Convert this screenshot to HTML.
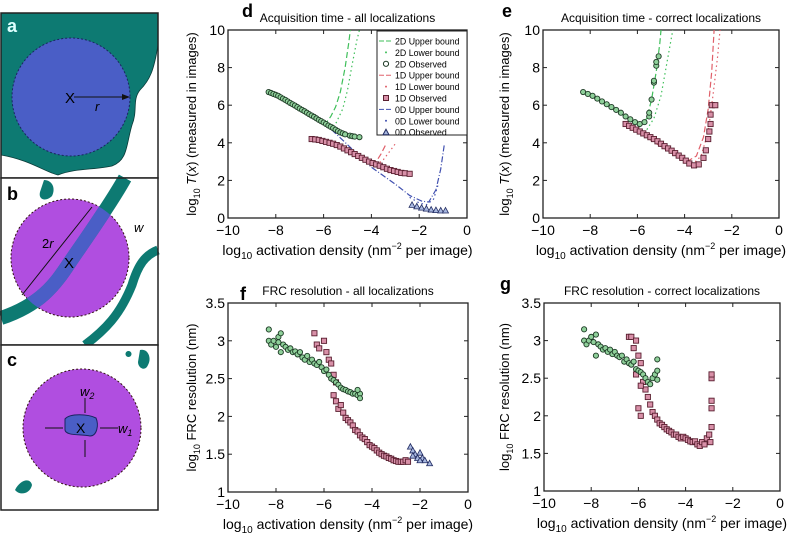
<!DOCTYPE html>
<html><head><meta charset="utf-8"><style>
body{margin:0;background:#fff}
svg{display:block;font-family:"Liberation Sans",sans-serif}
.t{font-size:12px}.tk{font-size:14px}.yl{font-size:13px}
</style></head><body>
<svg id="s" width="788" height="533" viewBox="0 0 788 533">
<g>
<rect x="1" y="13" width="157" height="165" fill="#fff"/>
<path d="M1,13 H158 V45 C154,70 150,80 140,90 C132,100 138,110 132,125 C126,145 128,160 112,166 C95,170 75,168 58,175 C45,172 30,160 1,155 Z" fill="#0d7a72" stroke="#0a3a38" stroke-width="0.8"/>
<rect x="1" y="13" width="157" height="165" fill="none" stroke="#222" stroke-width="1.5"/>
<circle cx="71" cy="97" r="59" fill="#4a5ec6" stroke="#1a2460" stroke-dasharray="2,2"/>
<text x="65" y="103" font-size="15">X</text>
<line x1="74" y1="97" x2="127" y2="97" stroke="#111"/><path d="M130,97 l-8,-3 v6z" fill="#111"/>
<text x="95" y="111" font-size="13" font-style="italic">r</text>
<text x="7" y="32" font-size="18" font-weight="bold" fill="#dff">a</text>
</g>
<g>
<rect x="1" y="178" width="157" height="167" fill="#fff"/>
<circle cx="70" cy="258" r="59" fill="#b04ee0" stroke="#311" stroke-dasharray="2,2"/>
<path d="M1,318 C40,305 55,285 70,262 C85,240 110,205 125,178" fill="none" stroke="#0d7a72" stroke-width="14"/>
<clipPath id="cb"><circle cx="70" cy="258" r="59"/></clipPath>
<path d="M1,318 C40,305 55,285 70,262 C85,240 110,205 125,178" fill="none" stroke="#4a5ec6" stroke-width="14" clip-path="url(#cb)"/>
<path d="M158,250 C145,255 138,265 132,285 C120,315 105,330 85,345" fill="none" stroke="#0d7a72" stroke-width="9"/>
<path d="M44,180 C52,180 56,188 52,196 C46,202 38,200 40,192 Z" fill="#0d7a72"/>
<line x1="22" y1="295" x2="92" y2="207" stroke="#111"/>
<text x="64" y="268" font-size="15">X</text>
<text x="42" y="248" font-size="13">2<tspan font-style="italic">r</tspan></text>
<text x="134" y="232" font-size="13" font-style="italic">w</text>
<rect x="1" y="178" width="157" height="167" fill="none" stroke="#222" stroke-width="1.5"/>
<text x="7" y="200" font-size="18" font-weight="bold">b</text>
</g>
<g>
<rect x="1" y="345" width="157" height="165" fill="#fff" stroke="#222" stroke-width="1.5"/>
<circle cx="82" cy="428" r="59" fill="#b04ee0" stroke="#311" stroke-dasharray="2,2"/>
<path d="M65,419 C70,413 88,414 96,418 C99,425 97,436 90,436 C80,434 66,436 65,430 Z" fill="#4a5ec6" stroke="#1a2460"/>
<text x="76" y="433" font-size="14">X</text>
<path d="M140,350 C148,348 152,358 148,365 C145,372 138,368 138,362 Z M128,351 a3,3 0 1,0 1,0" fill="#0d7a72"/>
<path d="M15,490 C20,480 30,477 32,485 C30,494 20,496 15,490 Z" fill="#0d7a72"/>
<line x1="45" y1="428" x2="63" y2="428" stroke="#111"/><line x1="100" y1="428" x2="118" y2="428" stroke="#111"/>
<line x1="85" y1="398" x2="85" y2="413" stroke="#111"/><line x1="85" y1="440" x2="85" y2="457" stroke="#111"/>
<text x="80" y="396" font-size="13" font-style="italic">w<tspan font-size="9" dy="3">2</tspan></text>
<text x="118" y="433" font-size="13" font-style="italic">w<tspan font-size="9" dy="3">1</tspan></text>
<text x="7" y="366" font-size="18" font-weight="bold">c</text>
</g>
<text x="242" y="17" font-size="18" font-weight="bold">d</text>
<text x="502" y="17" font-size="18" font-weight="bold">e</text>
<text x="240" y="300" font-size="18" font-weight="bold">f</text>
<text x="500" y="290" font-size="18" font-weight="bold">g</text>
</svg>
<script>
const d2Obs=[[-8.3,6.7],[-8.2,6.65],[-8.1,6.6],[-8.0,6.55],[-7.9,6.5],[-7.8,6.42],[-7.7,6.35],[-7.6,6.28],[-7.5,6.2],[-7.4,6.12],[-7.3,6.05],[-7.2,5.98],[-7.1,5.9],[-7.0,5.82],[-6.9,5.75],[-6.8,5.68],[-6.7,5.6],[-6.6,5.52],[-6.5,5.45],[-6.4,5.38],[-6.3,5.3],[-6.2,5.22],[-6.1,5.15],[-6.0,5.08],[-5.9,5.0],[-5.8,4.92],[-5.7,4.85],[-5.6,4.78],[-5.5,4.7],[-5.4,4.62],[-5.3,4.55],[-5.2,4.5],[-5.1,4.45],[-4.9,4.38],[-4.8,4.35],[-4.7,4.33],[-4.5,4.3]];
const d2Up=[[-8.3,6.7],[-7,5.8],[-6.5,5.35],[-6.1,5.05],[-5.9,5.05],[-5.7,5.4],[-5.5,5.9],[-5.3,6.7],[-5.1,8.0],[-4.95,9.3],[-4.88,10]];
const d2Lo=[[-5.8,4.8],[-5.5,5.0],[-5.2,5.8],[-5.0,6.8],[-4.8,8.2],[-4.6,9.5],[-4.5,10]];
const d1Obs=[[-6.5,4.2],[-6.35,4.18],[-6.2,4.15],[-6.05,4.1],[-5.9,4.05],[-5.75,4.0],[-5.6,3.95],[-5.45,3.88],[-5.3,3.8],[-5.15,3.7],[-5.0,3.6],[-4.85,3.5],[-4.7,3.4],[-4.55,3.3],[-4.4,3.2],[-4.25,3.1],[-4.1,3.0],[-3.95,2.92],[-3.8,2.85],[-3.65,2.78],[-3.5,2.7],[-3.35,2.62],[-3.2,2.55],[-3.05,2.5],[-2.9,2.45],[-2.75,2.4],[-2.6,2.38],[-2.4,2.35]];
const d1Up=[[-4.0,2.85],[-3.8,3.0],[-3.6,3.4],[-3.4,3.9]];
const d1Lo=[[-3.8,2.8],[-3.5,3.1],[-3.2,3.6],[-3.0,3.95]];
const d0Obs=[[-2.3,0.7],[-2.1,0.62],[-1.9,0.55],[-1.7,0.5],[-1.5,0.45],[-1.3,0.42],[-1.1,0.4],[-0.9,0.4]];
const d0Up=[[-6.0,5.1],[-5,3.9],[-4,2.7],[-3,1.8],[-2.4,1.2],[-1.9,0.9],[-1.6,0.85],[-1.3,1.5],[-1.1,2.6],[-0.95,3.9]];
const d0Lo=[[-2.4,1.1],[-2.0,0.8],[-1.7,0.7],[-1.4,1.0],[-1.2,1.8]];
const e2Obs=[[-8.3,6.7],[-8.1,6.6],[-7.9,6.5],[-7.7,6.35],[-7.5,6.2],[-7.3,6.05],[-7.1,5.9],[-6.9,5.75],[-6.7,5.6],[-6.5,5.4],[-6.3,5.25],[-6.1,5.1],[-5.9,5.0],[-5.7,5.1],[-5.5,5.4],[-5.5,5.6],[-5.4,6.3],[-5.3,7.2],[-5.3,7.3],[-5.2,8.1],[-5.2,8.3],[-5.1,8.6]];
const e2Up=[[-8.3,6.7],[-7,5.8],[-6.3,5.2],[-5.9,4.85],[-5.6,5.3],[-5.4,6.3],[-5.2,7.8],[-5.05,9.3],[-5.0,10]];
const e2Lo=[[-6.0,4.8],[-5.7,4.5],[-5.3,5.3],[-5.0,6.5],[-4.8,7.9],[-4.6,9.3],[-4.5,10]];
const e1Obs=[[-6.5,5.0],[-6.35,4.9],[-6.2,4.8],[-6.05,4.7],[-5.9,4.6],[-5.75,4.5],[-5.6,4.4],[-5.45,4.3],[-5.3,4.2],[-5.15,4.08],[-5.0,3.95],[-4.85,3.82],[-4.7,3.7],[-4.55,3.58],[-4.4,3.45],[-4.25,3.32],[-4.1,3.2],[-3.95,3.05],[-3.8,2.9],[-3.6,2.8],[-3.4,2.85],[-3.2,3.2],[-3.1,3.6],[-3.0,4.2],[-2.95,4.6],[-2.9,5.0],[-2.9,5.5],[-2.85,6.0],[-2.7,6.0]];
const e1Up=[[-6.5,5.0],[-5,3.8],[-4.2,3.2],[-3.9,3.0],[-3.5,3.3],[-3.2,4.3],[-3.0,5.8],[-2.85,7.8],[-2.75,10]];
const e1Lo=[[-4.2,3.1],[-3.7,2.8],[-3.3,3.3],[-3.0,4.6],[-2.8,6.5],[-2.6,8.6],[-2.5,10]];
const f2Obs=[[-8.3,3.15],[-8.3,3.0],[-8.2,2.95],[-8.1,3.0],[-8.0,2.92],[-7.9,3.05],[-7.9,2.98],[-7.8,2.85],[-7.8,3.1],[-7.7,2.95],[-7.6,2.92],[-7.5,2.88],[-7.4,2.9],[-7.3,2.85],[-7.2,2.86],[-7.1,2.82],[-7.0,2.85],[-6.9,2.78],[-6.8,2.75],[-6.7,2.8],[-6.6,2.72],[-6.5,2.75],[-6.4,2.7],[-6.3,2.68],[-6.2,2.72],[-6.1,2.65],[-6.0,2.6],[-5.9,2.62],[-5.8,2.55],[-5.7,2.5],[-5.6,2.48],[-5.5,2.45],[-5.4,2.42],[-5.3,2.38],[-5.2,2.36],[-5.1,2.35],[-5.0,2.33],[-4.9,2.32],[-4.8,2.3],[-4.7,2.3],[-4.6,2.28],[-4.5,2.3],[-4.5,2.24],[-4.6,2.35]];
const f1Obs=[[-6.4,3.1],[-6.3,2.95],[-6.2,2.9],[-6.0,3.0],[-5.9,2.85],[-5.8,2.75],[-5.7,2.7],[-5.6,2.55],[-5.5,2.45],[-5.6,2.28],[-5.5,2.2],[-5.4,2.1],[-5.3,2.15],[-5.2,2.05],[-5.1,1.98],[-5.0,1.95],[-4.9,1.92],[-4.8,1.88],[-4.7,1.82],[-4.6,1.8],[-4.5,1.75],[-4.4,1.72],[-4.3,1.7],[-4.2,1.66],[-4.1,1.62],[-4.0,1.6],[-3.9,1.58],[-3.8,1.55],[-3.7,1.52],[-3.6,1.5],[-3.5,1.48],[-3.4,1.47],[-3.3,1.45],[-3.2,1.44],[-3.1,1.42],[-3.0,1.41],[-2.9,1.4],[-2.8,1.4],[-2.7,1.4],[-2.6,1.42],[-2.5,1.4]];
const f0Obs=[[-2.4,1.6],[-2.3,1.55],[-2.2,1.5],[-2.3,1.48],[-2.1,1.45],[-2.0,1.52],[-1.9,1.45],[-1.8,1.42],[-1.6,1.38],[-2.0,1.42]];
const g2Obs=[[-8.3,3.15],[-8.3,3.0],[-8.2,2.95],[-8.1,3.0],[-8.0,3.05],[-7.9,2.98],[-7.8,2.8],[-7.8,3.08],[-7.7,2.95],[-7.6,2.92],[-7.5,2.88],[-7.4,2.9],[-7.3,2.85],[-7.2,2.88],[-7.1,2.82],[-7.0,2.85],[-6.9,2.8],[-6.8,2.78],[-6.7,2.8],[-6.6,2.72],[-6.5,2.75],[-6.4,2.7],[-6.3,2.68],[-6.2,2.72],[-6.1,2.62],[-6.0,2.6],[-5.9,2.58],[-5.8,2.55],[-5.7,2.5],[-5.6,2.45],[-5.5,2.42],[-5.4,2.5],[-5.3,2.55],[-5.2,2.6],[-5.2,2.75],[-5.2,2.48]];
const g1Obs=[[-6.4,3.05],[-6.3,3.05],[-6.2,2.9],[-6.1,3.0],[-6.0,2.8],[-5.9,2.7],[-6.1,2.55],[-5.8,2.45],[-5.7,2.35],[-5.9,2.4],[-6.0,2.1],[-5.9,2.0],[-5.6,2.25],[-5.5,2.15],[-5.4,2.05],[-5.3,2.0],[-5.2,1.95],[-5.1,1.9],[-5.0,1.88],[-4.9,1.85],[-4.8,1.82],[-4.7,1.8],[-4.6,1.78],[-4.5,1.75],[-4.4,1.75],[-4.3,1.72],[-4.2,1.7],[-4.1,1.72],[-4.0,1.7],[-3.9,1.68],[-3.8,1.66],[-3.7,1.65],[-3.6,1.66],[-3.5,1.62],[-3.4,1.6],[-3.3,1.65],[-3.2,1.62],[-3.1,1.7],[-3.0,1.75],[-2.95,1.65],[-2.9,1.85],[-2.9,2.1],[-2.9,2.2],[-2.9,2.5],[-2.9,2.55]];
const xTicks=[-10,-8,-6,-4,-2,0];
const yTicksT=[0,2,4,6,8,10];
const yTicksF=[1,1.5,2,2.5,3,3.5];
const yTickLabelsF=["1","1.5","2","2.5","3","3.5"];
const legendLabels=["2D Upper bound","2D Lower bound","2D Observed","1D Upper bound","1D Lower bound","1D Observed","0D Upper bound","0D Lower bound","0D Observed"];

const NS="http://www.w3.org/2000/svg",S=document.getElementById('s');
function mk(tag,attrs,parent){const e=document.createElementNS(NS,tag);for(const k in attrs)e.setAttribute(k,attrs[k]);(parent||S).appendChild(e);return e;}
const GREEN="#3fbf5a",RED="#e0606a",BLUE="#4050b0";
function panel(name,L,R,T,B,y0,y1,yt,ytl,title,ylab,yx){
  const g=mk('g',{});
  
  
  const sx=v=>L+(v+10)/10*(R-L), sy=v=>B-(v-y0)/(y1-y0)*(B-T);
  const cp='c'+name;const c=mk('clipPath',{id:cp},g);mk('rect',{x:L,y:T,width:R-L,height:B-T},c);
  mk('rect',{x:L,y:T,width:R-L,height:B-T,fill:'none',stroke:'#222','stroke-width':1.3},g);
  xTicks.forEach(v=>{mk('line',{x1:sx(v),x2:sx(v),y1:B,y2:B-4,stroke:'#222'},g);mk('line',{x1:sx(v),x2:sx(v),y1:T,y2:T+4,stroke:'#222'},g);
    const t=mk('text',{x:sx(v),y:B+17,'text-anchor':'middle',class:'tk'},g);t.textContent=(v<0?'\u2212'+(-v):v);
    
    });
  yt.forEach((v,i)=>{mk('line',{x1:L,x2:L+4,y1:sy(v),y2:sy(v),stroke:'#222'},g);mk('line',{x1:R,x2:R-4,y1:sy(v),y2:sy(v),stroke:'#222'},g);
    const t=mk('text',{x:L-3,y:sy(v)+5,'text-anchor':'end',class:'tk'},g);t.textContent=ytl[i];
    
    });
  const tt=mk('text',{x:(L+R)/2,y:T-8,'text-anchor':'middle',class:'t'},g);tt.textContent=title;
  
  
  const xl=mk('text',{x:(L+R)/2,y:B+37,'text-anchor':'middle',class:'tk'},g);
  xl.innerHTML='log<tspan font-size="10" dy="4">10</tspan><tspan dy="-4"> activation density (nm</tspan><tspan font-size="9" dy="-6">\u22122</tspan><tspan dy="6"> per image)</tspan>';
  
  
  const yl=mk('text',{x:0,y:0,'text-anchor':'middle',class:'yl',transform:`translate(${yx},${(T+B)/2}) rotate(-90)`},g);
  yl.innerHTML=ylab;
  
  
  const pg=mk('g',{'clip-path':`url(#${cp})`},g);
  return {sx,sy,pg,g};
}
function line(P,data,col,dash,name){const pl=mk('polyline',{points:data.map(p=>P.sx(p[0])+','+P.sy(p[1])).join(' '),fill:'none',stroke:col,'stroke-width':1.2,'stroke-dasharray':dash},P.pg);
  
  }
function pts(P,data,kind,name){const gg=mk('g',{},P.pg);
  
  
  data.forEach(p=>{const x=P.sx(p[0]),y=P.sy(p[1]);
  if(kind==='c')mk('circle',{cx:x,cy:y,r:2.6,fill:'#8fd09a',stroke:'#1d3a25','stroke-width':0.9},gg);
  else if(kind==='s')mk('rect',{x:x-2.6,y:y-2.6,width:5.2,height:5.2,fill:'#d890a8',stroke:'#5a1f30','stroke-width':0.9},gg);
  else mk('path',{d:`M${x},${y-3}L${x+3},${y+2.5}L${x-3},${y+2.5}Z`,fill:'#a8b8e0',stroke:'#202a60','stroke-width':0.8},gg);});}
const tl='log<tspan font-size="9" dy="4">10</tspan><tspan dy="-4"> </tspan><tspan font-style="italic">T</tspan>(<tspan font-style="italic">x</tspan>) (measured in images)';
const fl='log<tspan font-size="9" dy="4">10</tspan><tspan dy="-4"> FRC resolution (nm)</tspan>';
const yTickLabelsT=yTicksT.map(String);
const D=panel('chart-d',228,467,30,218,0,10,yTicksT,yTickLabelsT,'Acquisition time - all localizations',tl,196);
line(D,d2Up,GREEN,'6,3','2d-upper-bound');line(D,d2Lo,GREEN,'1.5,3','2d-lower-bound');
line(D,d1Up,RED,'6,3','1d-upper-bound');line(D,d1Lo,RED,'1.5,3','1d-lower-bound');
line(D,d0Up,BLUE,'6,2,1,2','0d-upper-bound');line(D,d0Lo,BLUE,'1.5,3','0d-lower-bound');
pts(D,d2Obs,'c','2d-observed');pts(D,d1Obs,'s','1d-observed');pts(D,d0Obs,'t','0d-observed');
const lg=mk('g',{});


mk('rect',{x:377,y:31,width:90,height:104,fill:'#fff',stroke:'#222','stroke-width':1},lg);
const lcol=[GREEN,GREEN,'c',RED,RED,'s',BLUE,BLUE,'t'];
legendLabels.forEach((lab,i)=>{const y=41+i*11.4;const e=mk('g',{},lg);
  
  
  const k=lcol[i];
  if(k==='c')mk('circle',{cx:386,cy:y,r:2.6,fill:'none',stroke:'#1d3a25'},e);
  else if(k==='s')mk('rect',{x:383.5,y:y-2.5,width:5,height:5,fill:'#d890a8',stroke:'#5a1f30'},e);
  else if(k==='t')mk('path',{d:`M386,${y-3}L389,${y+2.5}L383,${y+2.5}Z`,fill:'#a8b8e0',stroke:'#202a60'},e);
  else if(i%3===0)mk('line',{x1:379,x2:393,y1:y,y2:y,stroke:k,'stroke-dasharray':'5,2'},e);
  else mk('circle',{cx:386,cy:y,r:1,fill:k},e);
  const t=mk('text',{x:395,y:y+3.5,'font-size':'8.8'},e);t.textContent=lab;});
const E=panel('chart-e',543,779,30,218,0,10,yTicksT,yTickLabelsT,'Acquisition time - correct localizations',tl,509);
line(E,e2Up,GREEN,'6,3','2d-upper-bound');line(E,e2Lo,GREEN,'1.5,3','2d-lower-bound');
line(E,e1Up,RED,'6,3','1d-upper-bound');line(E,e1Lo,RED,'1.5,3','1d-lower-bound');
pts(E,e1Obs,'s','1d-observed');pts(E,e2Obs,'c','2d-observed');
const F=panel('chart-f',228,468,303,492,1,3.5,yTicksF,yTickLabelsF,'FRC resolution - all localizations',fl,196);
pts(F,f1Obs,'s','1d-observed');pts(F,f2Obs,'c','2d-observed');pts(F,f0Obs,'t','0d-observed');
const G=panel('chart-g',544,780,303,491,1,3.5,yTicksF,yTickLabelsF,'FRC resolution - correct localizations',fl,509);
pts(G,g1Obs,'s','1d-observed');pts(G,g2Obs,'c','2d-observed');
</script>
</body></html>
